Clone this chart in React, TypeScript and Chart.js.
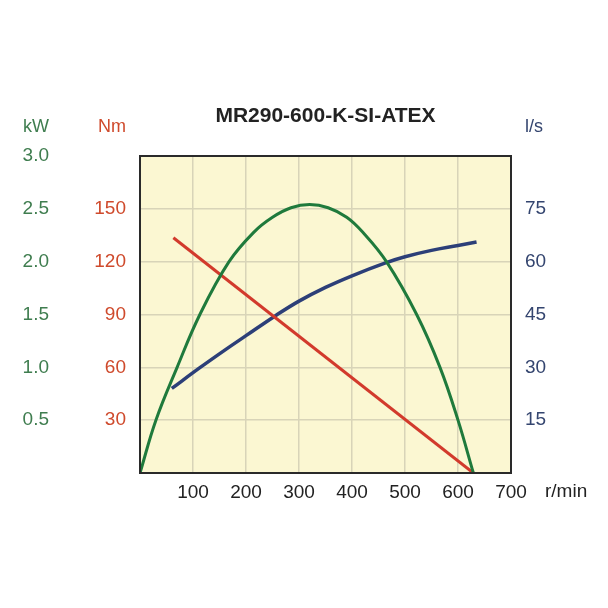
import React, { useEffect, useRef } from "react";
import { Chart, registerables } from "chart.js";

Chart.register(...registerables);

const chartTitle = "MR290-600-K-SI-ATEX";

// Power curve (kW vs r/min)
const powerRpm = [0, 30, 70, 113, 168, 215, 250, 285, 320, 355, 390, 420, 465, 522, 566, 600, 629];
const powerKw = [0, 0.5, 1.0, 1.5, 2.0, 2.28, 2.42, 2.51, 2.54, 2.51, 2.42, 2.28, 2.0, 1.5, 1.0, 0.5, 0];

// Torque curve (Nm vs r/min)
const torqueRpm = [63, 629];
const torqueNm = [133.6, 0];

// Flow curve (l/s vs r/min)
const flowRpm = [60, 113, 160, 200, 255, 300, 350, 400, 462, 500, 550, 600, 635];
const flowLs = [24.0, 29.9, 34.9, 39.0, 44.6, 48.8, 52.7, 56.0, 59.6, 61.4, 63.2, 64.6, 65.6];

const rpmRange = [0, 700];
const kwRange = [0, 3];
const nmRange = [0, 180];
const lsRange = [0, 90];

const unitKw = "kW";
const unitNm = "Nm";
const unitLs = "l/s";
const unitRpm = "r/min";

const FONT = '"Liberation Sans", Arial, Helvetica, sans-serif';
const GREEN = "#1f7a3c";
const GREEN_TXT = "#3f7d4f";
const RED = "#d23a2c";
const RED_TXT = "#cf4a2c";
const BLUE = "#2c3f78";
const BLUE_TXT = "#34456f";
const DARK = "#222222";

const toPts = (xs: number[], ys: number[]) => xs.map((x, i) => ({ x, y: ys[i] }));

export default function App() {
  const ref = useRef<HTMLCanvasElement | null>(null);

  useEffect(() => {
    if (!ref.current) return;

    const bgPlugin = {
      id: "bgPlugin",
      beforeDraw(chart: any) {
        const { ctx, chartArea: a } = chart;
        ctx.save();
        ctx.fillStyle = "#ffffff";
        ctx.fillRect(0, 0, chart.width, chart.height);
        ctx.fillStyle = "#fbf7d2";
        ctx.fillRect(a.left, a.top, a.right - a.left, a.bottom - a.top);
        ctx.restore();
      },
      afterDatasetsDraw(chart: any) {
        const { ctx, chartArea: a } = chart;
        ctx.save();
        ctx.strokeStyle = "#2a2a2a";
        ctx.lineWidth = 2;
        ctx.strokeRect(a.left, a.top, a.right - a.left, a.bottom - a.top);
        ctx.restore();
      },
      afterDraw(chart: any) {
        const { ctx, chartArea: a, scales } = chart;
        ctx.save();
        ctx.font = `18px ${FONT}`;
        ctx.textBaseline = "alphabetic";
        const yUnit = a.top - 24;
        ctx.textAlign = "right";
        ctx.fillStyle = GREEN_TXT;
        ctx.fillText(unitKw, scales.yKw.right - 13, yUnit);
        ctx.fillStyle = RED_TXT;
        ctx.fillText(unitNm, scales.yNm.right - 14, yUnit);
        ctx.textAlign = "left";
        ctx.fillStyle = BLUE_TXT;
        ctx.fillText(unitLs, scales.yLs.left + 14, yUnit);
        ctx.fillStyle = DARK;
        ctx.font = `19px ${FONT}`;
        ctx.textBaseline = "middle";
        ctx.fillText(unitRpm, a.right + 34, a.bottom + 19);
        ctx.restore();
      },
    };

    const chart = new Chart(ref.current, {
      type: "line",
      data: {
        datasets: [
          {
            label: "Power",
            data: toPts(powerRpm, powerKw),
            yAxisID: "yKw",
            borderColor: GREEN,
            borderWidth: 3,
            pointRadius: 0,
            tension: 0.4,
            fill: false,
          },
          {
            label: "Torque",
            data: toPts(torqueRpm, torqueNm),
            yAxisID: "yNm",
            borderColor: RED,
            borderWidth: 3,
            pointRadius: 0,
            tension: 0,
            fill: false,
          },
          {
            label: "Flow",
            data: toPts(flowRpm, flowLs),
            yAxisID: "yLs",
            borderColor: BLUE,
            borderWidth: 3.5,
            pointRadius: 0,
            tension: 0.4,
            fill: false,
          },
        ],
      },
      options: {
        responsive: false,
        animation: false,
        layout: { padding: 0 },
        plugins: {
          legend: { display: false },
          tooltip: { enabled: false },
          title: {
            display: true,
            text: chartTitle,
            fullSize: false,
            color: DARK,
            font: { family: FONT, size: 21, weight: "bold", lineHeight: 1.2 },
            padding: { top: 104, bottom: 26.8 },
          },
        },
        scales: {
          x: {
            type: "linear",
            position: "bottom",
            min: rpmRange[0],
            max: rpmRange[1],
            afterFit: (s: any) => {
              s.height = 135;
            },
            border: { display: false },
            grid: { color: "#d8d4b8", lineWidth: 1.5, drawTicks: false },
            ticks: {
              stepSize: 100,
              padding: 8,
              color: DARK,
              font: { family: FONT, size: 19 },
              callback: (v: any) => (v === 0 ? "" : String(v)),
            },
          },
          yKw: {
            type: "linear",
            position: "left",
            weight: 1,
            min: kwRange[0],
            max: kwRange[1],
            afterFit: (s: any) => {
              s.width = 62;
            },
            border: { display: false },
            grid: { display: false, drawTicks: false },
            ticks: {
              stepSize: 0.5,
              padding: 13,
              color: GREEN_TXT,
              font: { family: FONT, size: 19 },
              callback: (v: any) => (v === 0 ? "" : Number(v).toFixed(1)),
            },
          },
          yNm: {
            type: "linear",
            position: "left",
            weight: 0,
            min: nmRange[0],
            max: nmRange[1],
            afterFit: (s: any) => {
              s.width = 78;
            },
            border: { display: false },
            grid: { color: "#d8d4b8", lineWidth: 1.5, drawTicks: false },
            ticks: {
              stepSize: 30,
              padding: 14,
              color: RED_TXT,
              font: { family: FONT, size: 19 },
              callback: (v: any) => (v === 0 || v === 180 ? "" : String(v)),
            },
          },
          yLs: {
            type: "linear",
            position: "right",
            min: lsRange[0],
            max: lsRange[1],
            afterFit: (s: any) => {
              s.width = 97;
            },
            border: { display: false },
            grid: { display: false, drawTicks: false },
            ticks: {
              stepSize: 15,
              padding: 14,
              color: BLUE_TXT,
              font: { family: FONT, size: 19 },
              callback: (v: any) => (v === 0 || v === 90 ? "" : String(v)),
            },
          },
        },
      } as any,
      plugins: [bgPlugin],
    });

    return () => chart.destroy();
  }, []);

  return (
    <div style={{ position: "fixed", left: 0, top: 0, width: 608, height: 608, background: "#fff" }}>
      <canvas ref={ref} width={608} height={608} />
    </div>
  );
}
